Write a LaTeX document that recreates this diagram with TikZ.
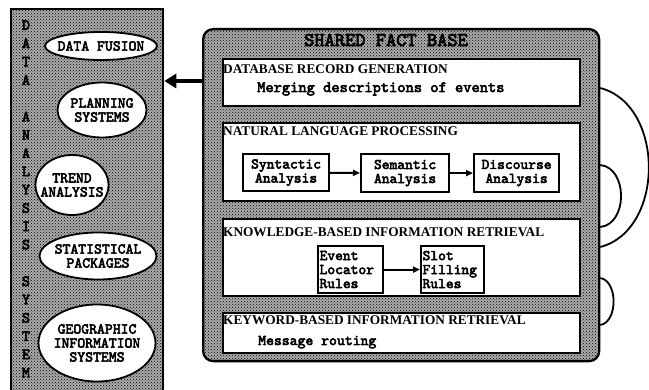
\documentclass[tikz,border=0pt]{standalone}
\usepackage{fontspec}
\setmainfont{Liberation Serif}
\newfontfamily\tw{lmmono10-regular.otf}[FakeBold=3.5]
\usetikzlibrary{patterns,arrows.meta,shapes.geometric}
\begin{document}
\begin{tikzpicture}[x=1pt,y=-1pt,
  dotfill/.style={preaction={fill=black!33}, pattern=crosshatch dots, pattern color=black},
  panel/.style={draw, line width=2.3pt, dotfill, anchor=north west, inner sep=0pt},
  ell/.style={ellipse, draw, line width=1.8pt, fill=white, inner sep=0pt},
  elltext/.style={font=\tw\fontsize{15}{14}\selectfont, align=center, inner sep=0pt},
  vlet/.style={font=\tw\fontsize{15.5}{14}\selectfont, inner sep=0pt},
  sect/.style={draw, line width=2.4pt, fill=white, anchor=north west, minimum width=357pt, inner sep=0pt},
  secttitle/.style={font=\bfseries\fontsize{13.3}{15}\selectfont, anchor=base west, inner sep=0pt},
  mono/.style={font=\tw\fontsize{15}{14}\selectfont, inner sep=0pt, anchor=base west},
  stepbox/.style={draw, line width=2.2pt, fill=white, anchor=north west, inner sep=0pt,
    font=\tw\fontsize{14.8}{14}\selectfont},
  flow/.style={line width=2pt, -{Triangle[length=7pt,width=6pt]}},
  loop/.style={line width=1.8pt}
]
\useasboundingbox (0,0) rectangle (649,390);

% left panel
\node[panel, minimum width=152pt, minimum height=400pt] (das) at (10,8) {};
\foreach \c [count=\i from 0] in {D,A,T,A,{},A,N,A,L,Y,S,I,S,{},S,Y,S,T,E,M}{
  \node[vlet] (v\i) at (26,{25+18.3*\i}) {\c};
}
\node[ell, minimum width=112pt, minimum height=28pt] (df) at (101,46) {};
\node[elltext] (dft) at (df.center) {DATA FUSION};
\node[ell, minimum width=89pt, minimum height=55pt] (ps) at (102,110) {};
\node[elltext] (pst) at (ps.center) {PLANNING\\SYSTEMS};
\node[ell, minimum width=73pt, minimum height=60pt] (ta) at (72,185) {};
\node[elltext] (tat) at (ta.center) {TREND\\ANALYSIS};
\node[ell, minimum width=117pt, minimum height=47pt] (sp) at (98,256) {};
\node[elltext] (spt) at (sp.center) {STATISTICAL\\PACKAGES};
\node[ell, minimum width=117pt, minimum height=77pt] (gis) at (97,343) {};
\node[elltext] (gist) at (gis.center) {GEOGRAPHIC\\INFORMATION\\SYSTEMS};

% shared fact base
\node[panel, rounded corners=10pt, minimum width=396pt, minimum height=332pt] (sfb) at (202,28) {};
\node[font=\tw\fontsize{19.5}{18}\selectfont, anchor=base, inner sep=0pt] (sfbt) at (386,46) {SHARED FACT BASE};

\node[sect, minimum height=47pt] (db) at (222,58) {};
\node[secttitle] (dbt) at (223,74) {DATABASE RECORD GENERATION};
\node[mono, font=\tw\fontsize{15.7}{14}\selectfont] (dbs) at (257,92) {Merging descriptions of events};

\node[sect, minimum height=78pt] (nlp) at (222,122) {};
\node[secttitle] (nlpt) at (223,136) {NATURAL LANGUAGE PROCESSING};
\node[stepbox, minimum width=86pt, minimum height=37pt, align=center] (syn) at (242,153) {Syntactic\\Analysis};
\node[stepbox, minimum width=88pt, minimum height=38pt, align=center] (sem) at (360,153) {Semantic\\Analysis};
\node[stepbox, minimum width=85pt, minimum height=38pt, align=center] (dis) at (473,153) {Discourse\\Analysis};
\draw[flow] (syn) -- (sem);
\draw[flow] (sem) -- (dis);

\node[sect, minimum height=77pt] (kb) at (222,218) {};
\node[secttitle] (kbt) at (223,237) {KNOWLEDGE-BASED INFORMATION RETRIEVAL};
\node[stepbox, minimum width=65pt, minimum height=47pt, text width=62pt, inner xsep=1.5pt, align=left] (evt) at (317,245) {Event\\Locator\\Rules};
\node[stepbox, minimum width=63pt, minimum height=47pt, text width=60pt, inner xsep=1.5pt, align=left] (slot) at (420,245) {Slot\\Filling\\Rules};
\draw[flow] (evt) -- (slot);

\node[sect, minimum height=40pt] (kw) at (222,312) {};
\node[secttitle] (kwt) at (223,325) {KEYWORD-BASED INFORMATION RETRIEVAL};
\node[mono] (kws) at (258,345) {Message routing};

% output arrow
\draw[line width=4.5pt, -{Triangle[length=12pt,width=14pt]}] (sfb.west |- 0,81) -- (das.east |- 0,81);

% loops on the right
\coordinate (l1a) at (sfb.east |- 0,88);
\coordinate (l1b) at (sfb.east |- 0,247);
\coordinate (l2a) at (sfb.east |- 0,165);
\coordinate (l2b) at (sfb.east |- 0,227);
\coordinate (l3a) at (sfb.east |- 0,278);
\coordinate (l3b) at (sfb.east |- 0,325);
\draw[loop] (l1a) .. controls (665,105) and (665,230) .. (l1b);
\draw[loop] (l2a) .. controls (628,168) and (628,224) .. (l2b);
\draw[loop] (l3a) .. controls (618,281) and (618,322) .. (l3b);
\end{tikzpicture}
\end{document}
